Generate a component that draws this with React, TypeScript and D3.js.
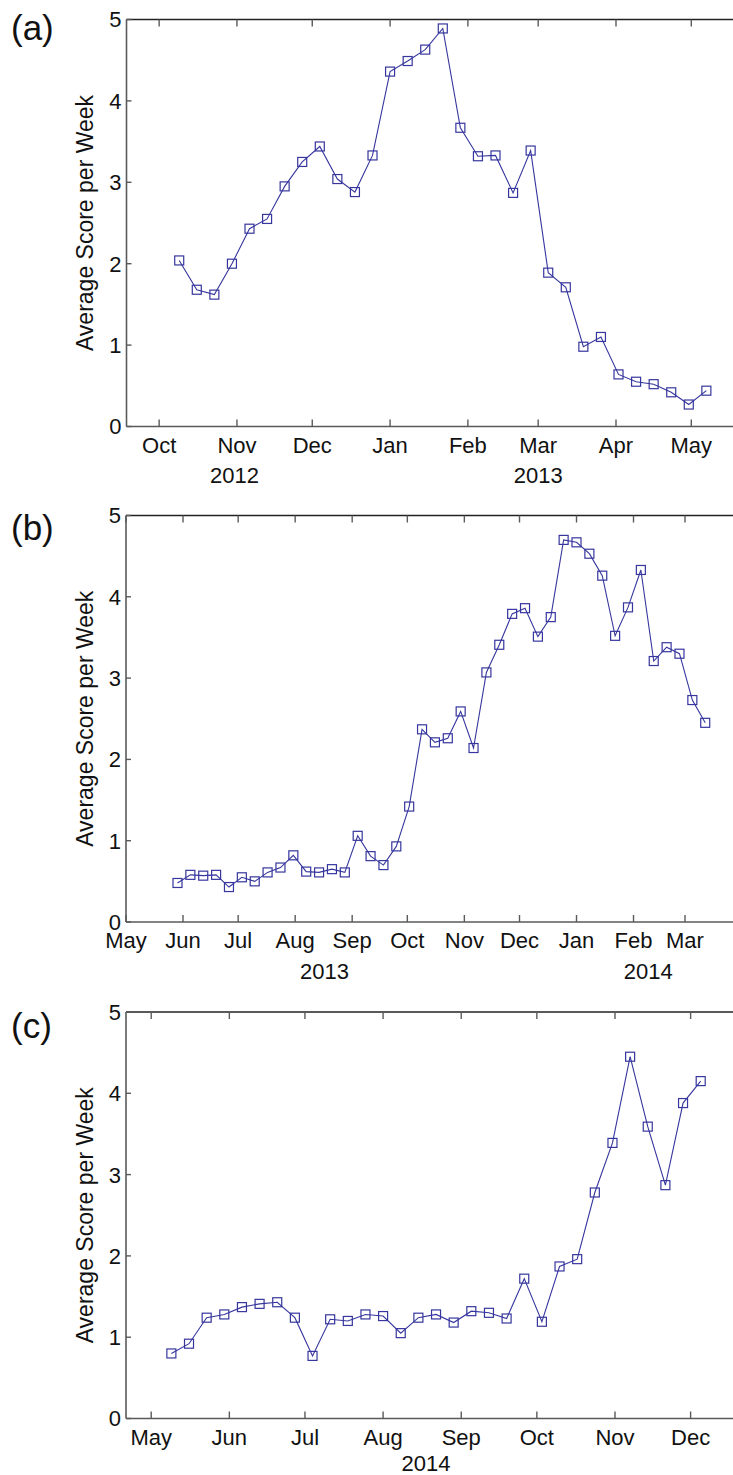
import React from 'react';
import * as d3 from 'd3';

// ---------- data ----------
const MONTH_NAMES = ['Jan', 'Feb', 'Mar', 'Apr', 'May', 'Jun', 'Jul', 'Aug', 'Sep', 'Oct', 'Nov', 'Dec'];
const Y_TICKS = [0, 1, 2, 3, 4, 5];

// panel (a): weekly averages starting 2012-10-09
const startA = '2012-10-09';
const valuesA = [2.04, 1.68, 1.62, 2.0, 2.43, 2.55, 2.95, 3.25, 3.44, 3.04, 2.88, 3.33, 4.36, 4.49, 4.63, 4.89,
  3.67, 3.32, 3.33, 2.87, 3.39, 1.89, 1.71, 0.98, 1.10, 0.64, 0.55, 0.52, 0.42, 0.27, 0.44];
const domainA = ['2012-09-18', '2013-05-20'];
const yearsA = [{ label: '2012', date: '2012-10-31' }, { label: '2013', date: '2013-03-01' }];

// panel (b): weekly averages starting 2013-05-29
const startB = '2013-05-29';
const valuesB = [0.48, 0.58, 0.57, 0.58, 0.43, 0.55, 0.50, 0.61, 0.67, 0.82, 0.62, 0.61, 0.65, 0.61, 1.06, 0.81,
  0.70, 0.93, 1.42, 2.37, 2.21, 2.26, 2.59, 2.14, 3.07, 3.41, 3.79, 3.86, 3.51, 3.75, 4.70, 4.67, 4.53, 4.26,
  3.52, 3.87, 4.33, 3.21, 3.38, 3.30, 2.73, 2.45];
const domainB = ['2013-05-01', '2014-04-01'];
const yearsB = [{ label: '2013', date: '2013-08-17' }, { label: '2014', date: '2014-02-09' }];

// panel (c): weekly averages starting 2014-05-09
const startC = '2014-05-09';
const valuesC = [0.80, 0.92, 1.24, 1.28, 1.37, 1.41, 1.43, 1.24, 0.77, 1.22, 1.20, 1.28, 1.26, 1.05, 1.24, 1.28,
  1.18, 1.32, 1.30, 1.23, 1.72, 1.19, 1.87, 1.96, 2.78, 3.39, 4.45, 3.59, 2.87, 3.88, 4.15];
const domainC = ['2014-04-21', '2014-12-20'];
const yearsC = [{ label: '2014', date: '2014-08-18' }];

// ---------- style ----------
const FONT = '"Liberation Sans", Arial, Helvetica, sans-serif';
const LINE_COLOR = '#36369e';
const AXIS_TOP = '#222';
const AXIS_SIDE = '#5a5a5a';

const parse = (s: string) => new Date(s + 'T00:00:00Z');

function weekly(start: string, values: number[]) {
  const s = parse(start);
  return values.map((v, i) => ({ date: d3.utcDay.offset(s, 7 * i), v }));
}

type PanelProps = {
  tag: string;
  tagY: number;
  start: string;
  values: number[];
  domain: string[];
  years: { label: string; date: string }[];
  yearOffset: number;
  top: number;
  bottom: number;
  left: number;
  right: number;
};

function Panel({ tag, tagY, start, values, domain, years, yearOffset, top, bottom, left, right }: PanelProps) {
  const d0 = parse(domain[0]);
  const d1 = parse(domain[1]);
  const x = d3.scaleUtc().domain([d0, d1]).range([left, right]);
  const y = d3.scaleLinear().domain([0, 5]).range([bottom, top]);
  const data = weekly(start, values);
  const line = d3.line<{ date: Date; v: number }>().x(d => x(d.date)).y(d => y(d.v));
  const months = d3.utcMonth.range(d0, d1);
  const xTick = 7;
  const yTick = 5;
  const ms = 9;

  return (
    <g>
      <text x={11} y={tagY} fontFamily={FONT} fontSize={35} fill="#111">{tag}</text>
      {/* axes box */}
      <line x1={left} x2={right} y1={top} y2={top} stroke={AXIS_TOP} strokeWidth={1.6} />
      <line x1={left} x2={left} y1={top} y2={bottom} stroke={AXIS_SIDE} strokeWidth={1.6} />
      <line x1={left} x2={right} y1={bottom} y2={bottom} stroke={AXIS_SIDE} strokeWidth={1.6} />
      <line x1={right} x2={right} y1={top} y2={bottom} stroke={AXIS_SIDE} strokeWidth={1.6} />
      {/* y ticks */}
      {Y_TICKS.map(t => (
        <g key={'y' + t}>
          <line x1={left} x2={left + yTick} y1={y(t)} y2={y(t)} stroke={AXIS_SIDE} strokeWidth={1.4} />
          <line x1={right} x2={right - yTick} y1={y(t)} y2={y(t)} stroke={AXIS_SIDE} strokeWidth={1.4} />
          <text x={left - 5} y={y(t)} dy="0.36em" textAnchor="end" fontFamily={FONT} fontSize={22} fill="#111">{t}</text>
        </g>
      ))}
      {/* x ticks */}
      {months.map(m => (
        <g key={'m' + m.getTime()}>
          <line x1={x(m)} x2={x(m)} y1={bottom} y2={bottom - xTick} stroke={AXIS_SIDE} strokeWidth={1.4} />
          <line x1={x(m)} x2={x(m)} y1={top} y2={top + xTick} stroke={AXIS_SIDE} strokeWidth={1.4} />
          <text x={x(m)} y={bottom + 26} textAnchor="middle" fontFamily={FONT} fontSize={22} fill="#111">
            {MONTH_NAMES[m.getUTCMonth()]}
          </text>
        </g>
      ))}
      {years.map(yl => (
        <text key={yl.label} x={x(parse(yl.date))} y={bottom + yearOffset} textAnchor="middle" fontFamily={FONT} fontSize={22} fill="#111">
          {yl.label}
        </text>
      ))}
      {/* y label */}
      <text transform={`translate(93,${(top + bottom) / 2}) rotate(-90)`} textAnchor="middle" fontFamily={FONT} fontSize={23} fill="#111">
        Average Score per Week
      </text>
      {/* series */}
      <path d={line(data) || ''} fill="none" stroke={LINE_COLOR} strokeWidth={1.1} />
      {data.map((d, i) => (
        <rect key={i} x={x(d.date) - ms / 2} y={y(d.v) - ms / 2} width={ms} height={ms}
          fill="none" stroke={LINE_COLOR} strokeWidth={1.2} />
      ))}
    </g>
  );
}

export default function App() {
  return (
    <svg width={733} height={1475} style={{ position: 'absolute', left: 0, top: 0, background: '#fff' }}>
      <rect x={0} y={0} width={733} height={1475} fill="#fff" />
      <Panel tag="(a)" tagY={39.5} start={startA} values={valuesA} domain={domainA} years={yearsA} yearOffset={56}
        top={19.5} bottom={426.5} left={126.5} right={739} />
      <Panel tag="(b)" tagY={540} start={startB} values={valuesB} domain={domainB} years={yearsB} yearOffset={57}
        top={515.5} bottom={922} left={126} right={742} />
      <Panel tag="(c)" tagY={1038} start={startC} values={valuesC} domain={domainC} years={yearsC} yearOffset={52.5}
        top={1012} bottom={1418.5} left={126} right={738.5} />
    </svg>
  );
}
